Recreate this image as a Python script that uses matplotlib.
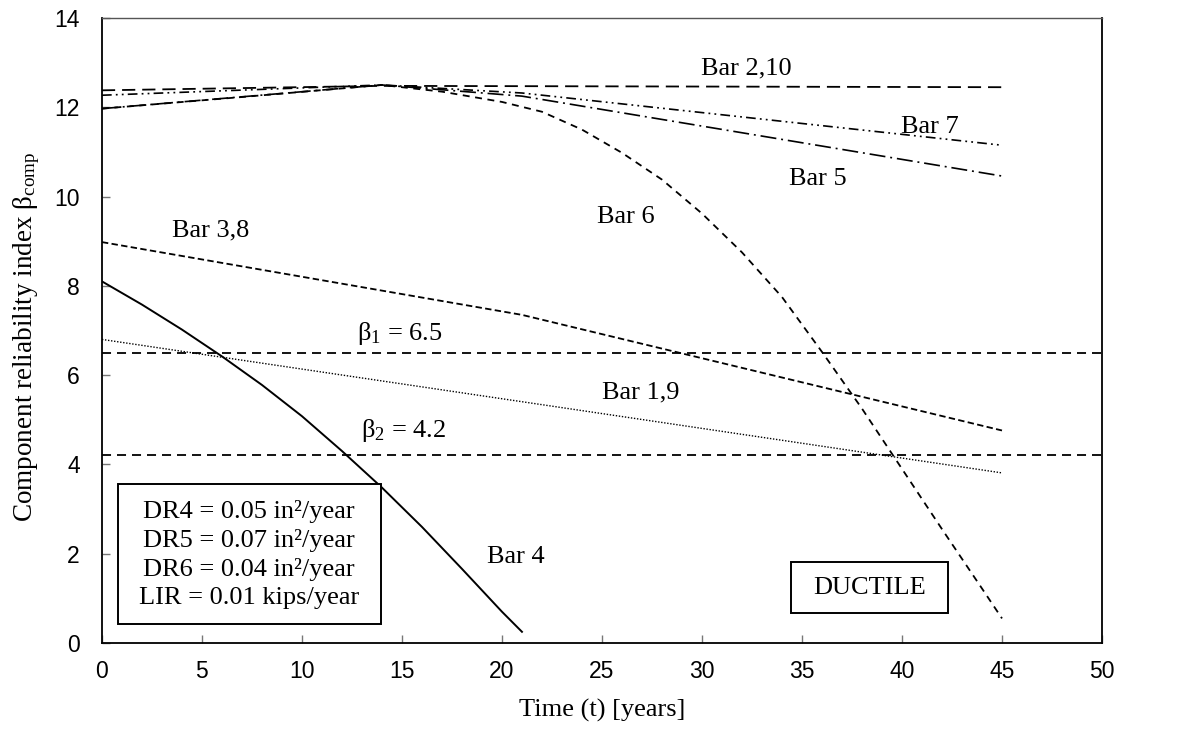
import matplotlib
matplotlib.use("Agg")
import matplotlib.pyplot as plt
from matplotlib.patches import Rectangle

plt.rcParams.update({
    "font.family": "Liberation Serif",
    "mathtext.fontset": "custom",
    "mathtext.rm": "Liberation Serif",
    "mathtext.it": "Liberation Serif:italic",
    "lines.scale_dashes": False,
})

# ---- data (time in years, reliability index) ----
t_bar210 = [0, 14, 45]
b_bar210 = [12.38, 12.48, 12.45]

t_bar7 = [0, 14, 21, 45]
b_bar7 = [12.27, 12.5, 12.32, 11.15]

t_bar5 = [0, 14, 21, 45]
b_bar5 = [11.97, 12.5, 12.25, 10.46]

t_bar6 = [0, 7, 14, 17, 20, 22, 24, 26, 28, 30, 32, 34, 36, 38, 40, 42, 44, 45]
b_bar6 = [11.97, 12.23, 12.5, 12.35, 12.12, 11.9, 11.5, 10.98, 10.38, 9.62,
          8.75, 7.75, 6.52, 5.25, 3.9, 2.55, 1.22, 0.55]

t_bar38 = [0, 21, 45]
b_bar38 = [8.98, 7.35, 4.76]

t_bar19 = [0, 45]
b_bar19 = [6.8, 3.81]

t_bar4 = [0, 2, 4, 6, 8, 10, 12, 14, 16, 18, 20, 21]
b_bar4 = [8.1, 7.58, 7.02, 6.42, 5.78, 5.08, 4.3, 3.48, 2.6, 1.66, 0.7, 0.25]

beta_targets = [6.5, 4.2]

x_ticks = [0, 5, 10, 15, 20, 25, 30, 35, 40, 45, 50]
y_ticks = [0, 2, 4, 6, 8, 10, 12, 14]

fig = plt.figure(figsize=(11.8, 7.29), dpi=100)
ax = fig.add_axes([0.0864, 0.118, 0.8475, 0.8573])

ax.plot(t_bar210, b_bar210, color="black", lw=1.3, linestyle=(0, (9.5, 5.0)))
ax.plot(t_bar7, b_bar7, color="black", lw=1.2,
        linestyle=(0, (7.0, 3.0, 1.3, 3.0, 1.3, 3.0)))
ax.plot(t_bar5, b_bar5, color="black", lw=1.2,
        linestyle=(0, (11.5, 3.5, 1.4, 3.5)))
ax.plot(t_bar6, b_bar6, color="black", lw=1.3, linestyle=(0, (5.0, 4.0)))
ax.plot(t_bar38, b_bar38, color="black", lw=1.3, linestyle=(0, (4.6, 2.4)))
ax.plot(t_bar19, b_bar19, color="black", lw=1.0, linestyle=(0, (1.0, 1.2)))
ax.plot(t_bar4, b_bar4, color="black", lw=1.4, linestyle="-")
for b in beta_targets:
    ax.axhline(b, color="black", lw=1.3, linestyle=(0, (6.5, 4.3)))

ax.set_xlim(0, 50)
ax.set_ylim(0, 14)
ax.set_xticks(x_ticks)
ax.set_yticks(y_ticks)
ax.tick_params(direction="in", length=6, width=1.0, color="#777777",
               labelsize=16.5)
ax.tick_params(axis="x", pad=12)
ax.tick_params(axis="y", pad=16)
for lab in ax.get_xticklabels() + ax.get_yticklabels():
    lab.set_fontfamily("Liberation Sans")
for side in ["left", "bottom", "right"]:
    ax.spines[side].set_linewidth(1.3)
ax.spines["top"].set_linewidth(1.0)
ax.spines["top"].set_color("#555555")

ax.set_xlabel("Time (t) [years]", fontsize=19)
ax.set_ylabel(r"Component reliability index β$_\mathrm{comp}$", fontsize=19.5)
ax.xaxis.set_label_coords(0.5, -0.09)
ax.yaxis.set_label_coords(-0.06, 0.49)

fs = 19
ax.text(32.2, 12.88, "Bar 2,10", fontsize=fs, ha="center", va="center")
ax.text(41.4, 11.56, "Bar 7", fontsize=fs, ha="center", va="center")
ax.text(35.8, 10.4, "Bar 5", fontsize=fs, ha="center", va="center")
ax.text(26.2, 9.55, "Bar 6", fontsize=fs, ha="center", va="center")
ax.text(5.45, 9.23, "Bar 3,8", fontsize=fs, ha="center", va="center")
ax.text(14.9, 6.94, r"β$_\mathrm{1}$ = 6.5", fontsize=fs, ha="center", va="center")
ax.text(15.1, 4.75, r"β$_\mathrm{2}$ = 4.2", fontsize=fs, ha="center", va="center")
ax.text(26.95, 5.62, "Bar 1,9", fontsize=fs, ha="center", va="center")
ax.text(20.7, 1.93, "Bar 4", fontsize=fs, ha="center", va="center")

# parameter box
ax.add_patch(Rectangle((0.8, 0.43), 13.15, 3.13, facecolor="white",
                       edgecolor="black", linewidth=1.4, zorder=3))
params = ("DR4 = 0.05 in²/year\nDR5 = 0.07 in²/year\n"
          "DR6 = 0.04 in²/year\nLIR = 0.01 kips/year")
ax.text(7.35, 1.98, params, fontsize=fs, ha="center", va="center",
        linespacing=1.34, zorder=4)

# failure mode box
ax.add_patch(Rectangle((34.45, 0.67), 7.85, 1.14, facecolor="white",
                       edgecolor="black", linewidth=1.4, zorder=3))
ax.text(38.4, 1.24, "DUCTILE", fontsize=fs, ha="center", va="center", zorder=4)

fig.savefig("out.png", dpi=100)
